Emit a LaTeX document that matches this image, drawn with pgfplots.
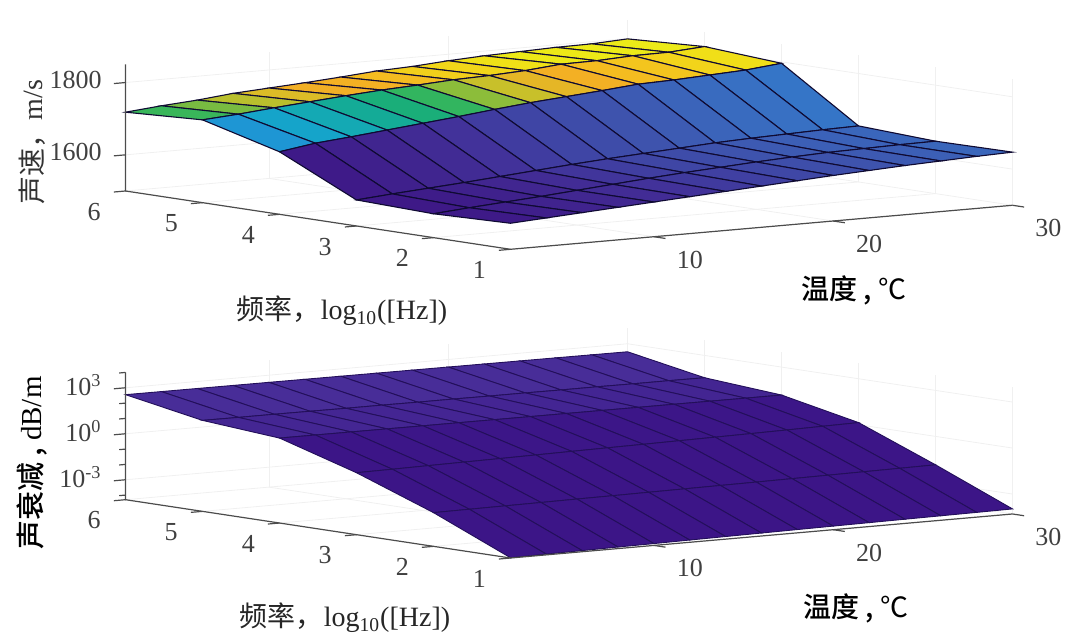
\documentclass[border=0pt]{standalone}
\usepackage{fontspec}
\usepackage{pgfplots}
\pgfplotsset{compat=1.18}
\setmainfont{Liberation Serif}
\newfontfamily\cjk{Noto Sans CJK SC}
\newfontfamily\cjkm{Noto Sans CJK SC Medium}
\tikzset{tk/.style={black!70, line width=0.6pt}}
\pgfplotsset{
  surfaxis/.style={
    clip=false,
    x={(8.965pt,0.786pt)}, y={(-38.5pt,5.83pt)},
    xmin=2, xmax=30, ymin=1, ymax=6,
    xtick={10,20,30}, ytick={1,2,3,4,5,6},
    tick pos=lower,
    /pgf/number format/assume math mode=true,
    /pgf/number format/1000 sep={},
    axis line style={draw=none},
    tick align=outside,
    major tick length=5.5pt, minor tick length=3pt,
    tick style={draw=none},
    grid=major,
    major grid style={color=black!6, line width=0.4pt},
    tick label style={font=\fontsize{13}{15}\selectfont, text=black!75},
    xticklabel style={xshift=5.5pt, yshift=-2.5pt},
    yticklabel style={xshift=-3pt, yshift=-2pt},
    zticklabel style={xshift=-3pt},
    anchor=south west,
  },
}
\begin{document}
\begin{tikzpicture}[x=0.5pt,y=-0.5pt]
\useasboundingbox (0,0) rectangle (1080,640);
\begin{axis}[surfaxis, at={(62.75pt,-124.65pt)},
    z={(0,0.18075pt)}, zmin=1500, zmax=1850, ztick={1600,1800},
    point meta min=1570, point meta max=1810,
    colormap={speed}{
      rgb255=(62,25,135) rgb255=(63,32,140) rgb255=(65,39,145) rgb255=(66,48,152) rgb255=(64,60,160)
      rgb255=(63,71,166) rgb255=(62,82,172) rgb255=(60,95,182) rgb255=(56,112,195) rgb255=(45,130,207)
      rgb255=(33,146,213) rgb255=(24,158,210) rgb255=(20,166,200) rgb255=(20,170,172) rgb255=(20,171,142)
      rgb255=(28,176,112) rgb255=(60,183,88) rgb255=(160,190,50) rgb255=(210,193,40) rgb255=(242,175,37)
      rgb255=(245,178,35) rgb255=(242,210,26) rgb255=(238,232,22) rgb255=(236,234,24) rgb255=(235,235,25)},
  ]
  \addplot3[surf, shader=flat corner, draw={rgb,255:red,15;green,10;blue,50}, line width=0.55pt, z buffer=sort,
      mesh/rows=6, mesh/cols=15]
    table[row sep=crcr] {
    2 1 1572\\ 4 1 1578\\ 6 1 1584\\ 8 1 1590\\ 10 1 1596\\ 12 1 1602\\ 14 1 1608\\ 16 1 1614\\ 18 1 1620\\ 20 1 1626\\ 22 1 1631\\ 24 1 1636\\ 26 1 1640\\ 28 1 1644\\ 30 1 1647\\
    2 2 1566\\ 4 2 1574\\ 6 2 1581\\ 8 2 1588\\ 10 2 1596\\ 12 2 1604\\ 14 2 1612\\ 16 2 1619\\ 18 2 1625\\ 20 2 1631\\ 22 2 1636\\ 24 2 1640\\ 26 2 1642\\ 28 2 1644\\ 30 2 1645\\
    2 3 1572\\ 4 3 1580\\ 6 3 1587\\ 8 3 1594\\ 10 3 1602\\ 12 3 1610\\ 14 3 1618\\ 16 3 1625\\ 18 3 1631\\ 20 3 1637\\ 22 3 1643\\ 24 3 1647\\ 26 3 1650\\ 28 3 1653\\ 30 3 1655\\
    2 4 1673\\ 4 4 1688\\ 6 4 1697\\ 8 4 1707\\ 10 4 1717\\ 12 4 1727\\ 14 4 1738\\ 16 4 1748\\ 18 4 1756\\ 20 4 1764\\ 22 4 1773\\ 24 4 1776\\ 26 4 1781\\ 28 4 1786\\ 30 4 1796\\
    2 5 1729\\ 4 5 1736\\ 6 5 1745\\ 8 5 1753\\ 10 5 1761\\ 12 5 1768\\ 14 5 1773\\ 16 5 1779\\ 18 5 1782\\ 20 5 1787\\ 22 5 1796\\ 24 5 1797\\ 26 5 1802\\ 28 5 1803\\ 30 5 1810\\
    2 6 1718\\ 4 6 1727\\ 6 6 1734\\ 8 6 1744\\ 10 6 1750\\ 12 6 1756\\ 14 6 1763\\ 16 6 1771\\ 18 6 1775\\ 20 6 1782\\ 22 6 1787\\ 24 6 1790\\ 26 6 1793\\ 28 6 1794\\ 30 6 1799\\
    };
  \draw[tk] (axis cs:2,6,1850) -- (axis cs:2,6,1500) -- (axis cs:2,1,1500) -- (axis cs:30,1,1500);
  \pgfplotsinvokeforeach{1,2,3,4,5,6}{\draw[tk] (axis cs:2,#1,1500) -- (axis cs:1.35,#1,1500);}
  \pgfplotsinvokeforeach{10,20,30}{\draw[tk] (axis cs:#1,1,1500) -- (axis cs:#1,0.85,1500);}
  \pgfplotsinvokeforeach{1600,1800}{\draw[tk] (axis cs:2,6,#1) -- (axis cs:1.35,6,#1);}
\end{axis}
\begin{axis}[surfaxis, at={(62.75pt,-279pt)},
    zmode=log, log basis z=10,
    z={(0,7.665pt)}, zmin=5e-5, zmax=1e4,
    ztick={1e-3,1,1e3}, zticklabels={10\textsuperscript{-3},10\textsuperscript{0},10\textsuperscript{3}},
    colormap={atten}{
      rgb255=(60,21,135) rgb255=(60,21,135) rgb255=(60,21,135) rgb255=(60,21,135)
      rgb255=(60,21,135) rgb255=(60,24,138) rgb255=(72,45,152) rgb255=(72,45,152)},
  ]
  \addplot3[surf, shader=flat corner, draw={rgb,255:red,35;green,15;blue,90}, line width=0.45pt, z buffer=sort,
      mesh/rows=6, mesh/cols=15]
    table[row sep=crcr] {
    2 1 5.2e-5\\ 4 1 5.6e-5\\ 6 1 5.9e-5\\ 8 1 6.3e-5\\ 10 1 6.6e-5\\ 12 1 7e-5\\ 14 1 7.4e-5\\ 16 1 7.8e-5\\ 18 1 8.2e-5\\ 20 1 8.6e-5\\ 22 1 9e-5\\ 24 1 9.4e-5\\ 26 1 9.8e-5\\ 28 1 1.02e-4\\ 30 1 1.07e-4\\
    2 2 .0079\\ 4 2 .0082\\ 6 2 .0085\\ 8 2 .0088\\ 10 2 .0092\\ 12 2 .0095\\ 14 2 .0099\\ 16 2 .0103\\ 18 2 .0107\\ 20 2 .0111\\ 22 2 .0116\\ 24 2 .0121\\ 26 2 .0127\\ 28 2 .0133\\ 30 2 .014\\
    2 3 .55\\ 4 3 .58\\ 6 3 .62\\ 8 3 .66\\ 10 3 .7\\ 12 3 .75\\ 14 3 .8\\ 16 3 .85\\ 18 3 .9\\ 20 3 .96\\ 22 3 1.02\\ 24 3 1.09\\ 26 3 1.17\\ 28 3 1.27\\ 30 3 1.38\\
    2 4 17.4\\ 4 4 17.2\\ 6 4 17\\ 8 4 16.8\\ 10 4 16.6\\ 12 4 16.5\\ 14 4 16.3\\ 16 4 16.1\\ 18 4 16\\ 20 4 15.8\\ 22 4 15.6\\ 24 4 15.5\\ 26 4 15.3\\ 28 4 15.1\\ 30 4 15\\
    2 5 43\\ 4 5 42\\ 6 5 42\\ 8 5 41\\ 10 5 40\\ 12 5 40\\ 14 5 39\\ 16 5 39\\ 18 5 38\\ 20 5 38\\ 22 5 37\\ 24 5 37\\ 26 5 36\\ 28 5 36\\ 30 5 35\\
    2 6 355\\ 4 6 352\\ 6 6 349\\ 8 6 345\\ 10 6 342\\ 12 6 338\\ 14 6 334\\ 16 6 330\\ 18 6 326\\ 20 6 322\\ 22 6 318\\ 24 6 314\\ 26 6 310\\ 28 6 305\\ 30 6 300\\
    };
  \draw[tk] (axis cs:2,6,1e4) -- (axis cs:2,6,5e-5) -- (axis cs:2,1,5e-5) -- (axis cs:30,1,5e-5);
  \pgfplotsinvokeforeach{1,2,3,4,5,6}{\draw[tk] (axis cs:2,#1,5e-5) -- (axis cs:1.35,#1,5e-5);}
  \pgfplotsinvokeforeach{10,20,30}{\draw[tk] (axis cs:#1,1,5e-5) -- (axis cs:#1,0.85,5e-5);}
  \pgfplotsinvokeforeach{1e-3,1,1e3}{\draw[tk] (axis cs:2,6,#1) -- (axis cs:1.35,6,#1);}
  \pgfplotsinvokeforeach{1e-4,1e-2,1e-1,1e1,1e2,1e4}{\draw[tk] (axis cs:2,6,#1) -- (axis cs:1.65,6,#1);}
\end{axis}
\node[rotate=90, font=\fontsize{14}{16}\selectfont, text=black!80] at (32,142) {{\cjk 声速，}m/s};
\node[font=\fontsize{14}{16}\selectfont, text=black!85] at (342,311) {{\cjk 频率，}log\textsubscript{10}([Hz])};
\node[font=\fontsize{14}{16}\selectfont] at (854,290) {{\cjkm 温度 , {\cjk ℃}}};
\node[rotate=90, font=\fontsize{14.5}{16}\selectfont] at (32,463) {{\cjkm 声衰减 , }dB/m};
\node[font=\fontsize{14}{16}\selectfont, text=black!85] at (345,618) {{\cjk 频率，}log\textsubscript{10}([Hz])};
\node[font=\fontsize{14}{16}\selectfont] at (856,608) {{\cjkm 温度 , {\cjk ℃}}};
\end{tikzpicture}
\end{document}
